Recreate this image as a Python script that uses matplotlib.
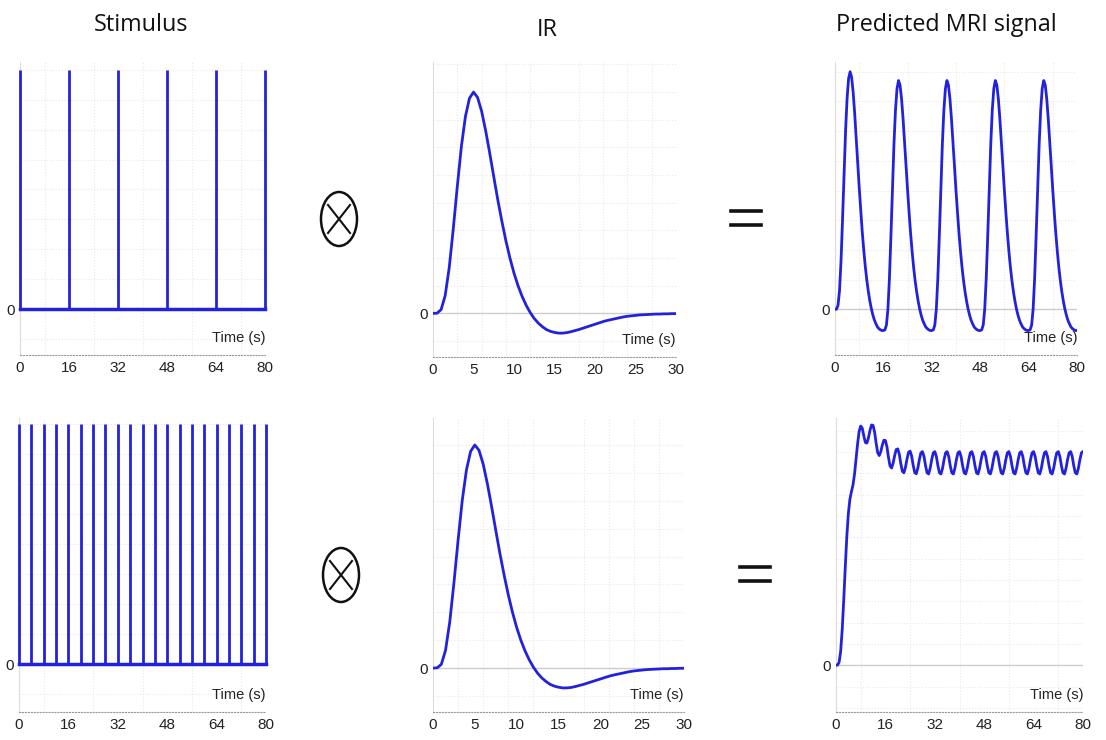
import numpy as np
import matplotlib.pyplot as plt
from matplotlib.patches import Ellipse
from matplotlib.lines import Line2D

# stimulus onsets (s)
onsets_slow = [0, 16, 32, 48, 64, 80]
onsets_fast = [0, 4, 8, 12, 16, 20, 24, 28, 32, 36, 40,
               44, 48, 52, 56, 60, 64, 68, 72, 76, 80]

# impulse response, sampled every 0.5 s from 0 to 30 s
ir_values = [
    0.000, 0.001, 0.017, 0.080, 0.206, 0.381, 0.574, 0.753, 0.889, 0.972,
    1.000, 0.976, 0.914, 0.826, 0.725, 0.618, 0.513, 0.417, 0.328, 0.250,
    0.182, 0.125, 0.077, 0.037, 0.004, -0.023, -0.044, -0.060, -0.073, -0.081,
    -0.086, -0.089, -0.089, -0.087, -0.083, -0.078, -0.073, -0.067, -0.061, -0.055,
    -0.049, -0.043, -0.037, -0.032, -0.028, -0.024, -0.020, -0.016, -0.013, -0.011,
    -0.009, -0.007, -0.006, -0.005, -0.004, -0.003, -0.003, -0.002, -0.002, -0.001,
    -0.001,
]

# predicted signal, sampled every 0.5 s from 0 to 80 s
pred_slow = [
    0.000, 0.001, 0.017, 0.080, 0.206, 0.381, 0.574, 0.753, 0.889, 0.972, 1.000, 0.976, 0.914, 0.826, 0.725, 0.618,
    0.513, 0.417, 0.328, 0.250, 0.182, 0.125, 0.077, 0.037, 0.004, -0.023, -0.044, -0.060, -0.073, -0.081, -0.086, -0.089,
    -0.089, -0.086, -0.066, 0.002, 0.133, 0.314, 0.513, 0.698, 0.840, 0.929, 0.963, 0.944, 0.886, 0.802, 0.705, 0.602,
    0.500, 0.406, 0.319, 0.243, 0.176, 0.120, 0.073, 0.034, 0.001, -0.025, -0.046, -0.061, -0.074, -0.081, -0.086, -0.089,
    -0.089, -0.086, -0.066, 0.002, 0.133, 0.314, 0.513, 0.698, 0.840, 0.929, 0.963, 0.944, 0.886, 0.802, 0.705, 0.602,
    0.500, 0.406, 0.319, 0.243, 0.176, 0.120, 0.073, 0.034, 0.001, -0.025, -0.046, -0.061, -0.074, -0.081, -0.086, -0.089,
    -0.089, -0.086, -0.066, 0.002, 0.133, 0.314, 0.513, 0.698, 0.840, 0.929, 0.963, 0.944, 0.886, 0.802, 0.705, 0.602,
    0.500, 0.406, 0.319, 0.243, 0.176, 0.120, 0.073, 0.034, 0.001, -0.025, -0.046, -0.061, -0.074, -0.081, -0.086, -0.089,
    -0.089, -0.086, -0.066, 0.002, 0.133, 0.314, 0.513, 0.698, 0.840, 0.929, 0.963, 0.944, 0.886, 0.802, 0.705, 0.602,
    0.500, 0.406, 0.319, 0.243, 0.176, 0.120, 0.073, 0.034, 0.001, -0.025, -0.046, -0.061, -0.074, -0.081, -0.086, -0.089,
    -0.089,
]

pred_fast = [
    0.000, 0.001, 0.017, 0.080, 0.206, 0.381, 0.574, 0.753,
    0.889, 0.973, 1.017, 1.056, 1.120, 1.207, 1.299, 1.371,
    1.402, 1.390, 1.345, 1.306, 1.302, 1.332, 1.376, 1.408,
    1.406, 1.367, 1.301, 1.246, 1.229, 1.251, 1.290, 1.319,
    1.317, 1.280, 1.218, 1.168, 1.156, 1.184, 1.229, 1.264,
    1.268, 1.237, 1.181, 1.136, 1.128, 1.160, 1.209, 1.248,
    1.255, 1.226, 1.172, 1.129, 1.122, 1.155, 1.205, 1.245,
    1.252, 1.224, 1.170, 1.128, 1.121, 1.154, 1.205, 1.245,
    1.252, 1.224, 1.170, 1.128, 1.121, 1.154, 1.205, 1.245,
    1.252, 1.224, 1.170, 1.128, 1.121, 1.154, 1.205, 1.245,
    1.252, 1.224, 1.170, 1.128, 1.121, 1.154, 1.205, 1.245,
    1.252, 1.224, 1.170, 1.128, 1.121, 1.154, 1.205, 1.245,
    1.252, 1.224, 1.170, 1.128, 1.121, 1.154, 1.205, 1.245,
    1.252, 1.224, 1.170, 1.128, 1.121, 1.154, 1.205, 1.245,
    1.252, 1.224, 1.170, 1.128, 1.121, 1.154, 1.205, 1.245,
    1.252, 1.224, 1.170, 1.128, 1.121, 1.154, 1.205, 1.245,
    1.252, 1.224, 1.170, 1.128, 1.121, 1.154, 1.205, 1.245,
    1.252, 1.224, 1.170, 1.128, 1.121, 1.154, 1.205, 1.245,
    1.252, 1.224, 1.170, 1.128, 1.121, 1.154, 1.205, 1.245,
    1.252, 1.224, 1.170, 1.128, 1.121, 1.154, 1.205, 1.245,
    1.252,
]

titles = ["Stimulus", "IR", "Predicted MRI signal"]
stim_ticks = [0, 16, 32, 48, 64, 80]
ir_ticks = [0, 5, 10, 15, 20, 25, 30]

W, H = 1106, 740
BLUE = "#2222dd"
plt.rcParams["font.family"] = ["Liberation Sans", "DejaVu Sans"]

fig = plt.figure(figsize=(W / 100, H / 100), dpi=100)


def make_ax(x0, x1, ytop, ybot, xmax, ylim, ticks):
    ax = fig.add_axes([x0 / W, 1 - ybot / H, (x1 - x0) / W, (ybot - ytop) / H])
    ax.set_xticks(ticks)
    ax.set_xticklabels([str(t) for t in ticks], fontsize=11)
    ax.set_yticks([0])
    ax.set_yticklabels(["0"], fontsize=11)
    minor_y = [v for v in np.arange(-0.25, ylim[1], 0.125) if ylim[0] < v < ylim[1]]
    ax.set_yticks(minor_y, minor=True)
    ax.set_xticks(np.linspace(0, xmax, 11), minor=True)
    ax.set_xlim(0, xmax)
    ax.set_ylim(*ylim)
    ax.tick_params(length=0, pad=4, which="both", colors="#222222")
    ax.grid(True, which="minor", linestyle=":", color="#e8e8e8", linewidth=0.8)
    for s in ["top", "right"]:
        ax.spines[s].set_visible(False)
    ax.spines["left"].set_color("#dcdcdc")
    ax.spines["bottom"].set_color("#9a9a9a")
    ax.spines["bottom"].set_linestyle(":")
    ax.text(1.0, 0.035, "Time (s)", transform=ax.transAxes, ha="right",
            va="bottom", fontsize=10.5, color="#222222")
    return ax


def stim_panel(ax, onsets):
    ax.vlines(onsets, 0, 1, color=BLUE, linewidth=2, clip_on=False, zorder=3)
    ax.plot([onsets[0], onsets[-1]], [0, 0], color=BLUE, linewidth=2.5,
            clip_on=False, zorder=3)


def curve_panel(ax, values):
    t = np.arange(len(values)) * 0.5
    ax.axhline(0, color="#cccccc", linewidth=1)
    ax.plot(t, values, color=BLUE, linewidth=2, zorder=3)


# top row
a = make_ax(20, 265, 62, 355, 80, (-0.192, 1.033), stim_ticks)
stim_panel(a, onsets_slow)
a = make_ax(433, 676, 62, 357, 30, (-0.197, 1.136), ir_ticks)
curve_panel(a, ir_values)
a = make_ax(835, 1077, 62, 355, 80, (-0.192, 1.041), stim_ticks)
curve_panel(a, pred_slow)

# bottom row
a = make_ax(19, 266, 418, 712, 80, (-0.200, 1.026), stim_ticks)
stim_panel(a, onsets_fast)
a = make_ax(433, 684, 418, 712, 30, (-0.197, 1.121), ir_ticks)
curve_panel(a, ir_values)
a = make_ax(836, 1083, 418, 712, 80, (-0.274, 1.449), stim_ticks)
curve_panel(a, pred_fast)

# titles
for x, y, txt in zip([141, 547, 946], [25, 30, 25], titles):
    fig.text(x / W, 1 - y / H, txt, ha="center", va="center", fontsize=16.8,
             family=["Open Sans", "DejaVu Sans"], color="#111111")


# convolution and equals signs
def otimes(cx, cy):
    fig.patches.append(Ellipse((cx / W, 1 - cy / H), 36 / W, 54 / H,
                               transform=fig.transFigure, fill=False,
                               edgecolor="#111111", linewidth=1.8))
    for dx in (-1, 1):
        fig.lines.append(Line2D([(cx - 11 * dx) / W, (cx + 11 * dx) / W],
                                [1 - (cy - 14) / H, 1 - (cy + 14) / H],
                                transform=fig.transFigure, color="#111111",
                                linewidth=1.5))


def equals(cx, cy):
    for dy in (-7, 7):
        fig.lines.append(Line2D([(cx - 15) / W, (cx + 15) / W],
                                [1 - (cy + dy) / H, 1 - (cy + dy) / H],
                                transform=fig.transFigure, color="#111111",
                                linewidth=2.6))


otimes(339, 219)
otimes(341, 575)
equals(746, 218)
equals(755, 574)

fig.savefig("out.png", dpi=100, facecolor="white")
